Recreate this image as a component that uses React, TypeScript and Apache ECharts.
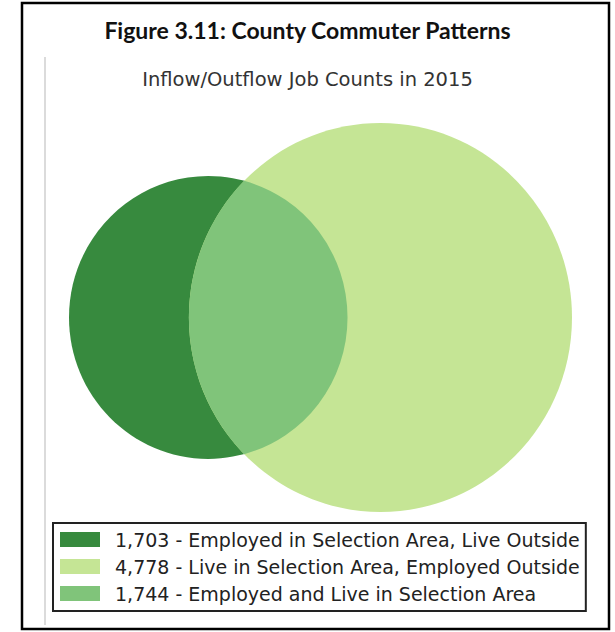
import React, { useEffect, useRef } from "react";
import * as echarts from "echarts";

const TITLE = "Figure 3.11: County Commuter Patterns";
const SUBTITLE = "Inflow/Outflow Job Counts in 2015";
const categories = [
  "Employed in Selection Area, Live Outside",
  "Live in Selection Area, Employed Outside",
  "Employed and Live in Selection Area",
];
const values = [1703, 4778, 1744]; // A only, B only, A and B
const colors = ["#378a3e", "#c5e595", "#80c47a"];

function lensArea(r1: number, r2: number, d: number) {
  if (d >= r1 + r2) return 0;
  if (d <= Math.abs(r1 - r2)) return Math.PI * Math.min(r1, r2) ** 2;
  const a1 = Math.acos((d * d + r1 * r1 - r2 * r2) / (2 * d * r1));
  const a2 = Math.acos((d * d + r2 * r2 - r1 * r1) / (2 * d * r2));
  const k = Math.sqrt((-d + r1 + r2) * (d + r1 - r2) * (d - r1 + r2) * (d + r1 + r2));
  return r1 * r1 * a1 + r2 * r2 * a2 - 0.5 * k;
}

function fmt(n: number) {
  return n.toLocaleString("en-US");
}

export default function App() {
  const ref = useRef<HTMLDivElement>(null);
  useEffect(() => {
    if (!ref.current) return;
    const chart = echarts.init(ref.current, null, { renderer: "svg" });

    const [aOnly, bOnly, both] = values;
    const rA = Math.sqrt((aOnly + both) / Math.PI);
    const rB = Math.sqrt((bOnly + both) / Math.PI);
    let lo = Math.abs(rA - rB) + 1e-9;
    let hi = rA + rB;
    for (let i = 0; i < 100; i++) {
      const mid = (lo + hi) / 2;
      if (lensArea(rA, rB, mid) > both) lo = mid;
      else hi = mid;
    }
    const d = (lo + hi) / 2;
    const xMin = -rA;
    const xMax = d + rB;
    const yMin = -Math.max(rA, rB);
    const yMax = Math.max(rA, rB);

    const xi = (d * d + rA * rA - rB * rB) / (2 * d);
    const yi = Math.sqrt(Math.max(0, rA * rA - xi * xi));

    const names = categories.map((c, i) => `${fmt(values[i])} - ${c}`);

    const circleItem = (cx: number, r: number, color: string) => (params: any, api: any) => {
      const c = api.coord([cx, 0]);
      const s = api.size([r, r]);
      return { type: "ellipse", shape: { cx: c[0], cy: c[1], rx: s[0], ry: s[1] }, style: { fill: color } };
    };

    const lensItem = (params: any, api: any) => {
      const p1 = api.coord([xi, yi]);
      const p2 = api.coord([xi, -yi]);
      const sa = api.size([rA, rA]);
      const sb = api.size([rB, rB]);
      const pathData = `M ${p1[0]} ${p1[1]} A ${sa[0]} ${sa[1]} 0 0 1 ${p2[0]} ${p2[1]} A ${sb[0]} ${sb[1]} 0 0 1 ${p1[0]} ${p1[1]} Z`;
      return { type: "path", shape: { pathData }, style: { fill: colors[2] } };
    };

    chart.setOption({
      animation: false,
      backgroundColor: "#ffffff",
      title: [
        {
          text: TITLE,
          left: "center",
          top: 13,
          textStyle: { fontFamily: "Lato", fontWeight: "bold", fontSize: 23, color: "#111" },
        },
        {
          text: SUBTITLE,
          left: "center",
          top: 64,
          textStyle: { fontFamily: "DejaVu Sans", fontWeight: "normal", fontSize: 19.5, color: "#333" },
        },
      ],
      grid: { left: 69, top: 123, height: 389, width: 503 },
      xAxis: {
        type: "value",
        min: xMin,
        max: xMax,
        show: false,
        splitLine: { show: false },
      },
      yAxis: {
        type: "value",
        min: yMin,
        max: yMax,
        show: false,
        splitLine: { show: false },
      },
      legend: {
        orient: "vertical",
        left: 53,
        top: 523,
        icon: "rect",
        itemWidth: 40,
        itemHeight: 15,
        itemGap: 8,
        padding: [7, 6, 8, 7],
        borderColor: "#222",
        borderWidth: 2,
        selectedMode: false,
        data: names,
        textStyle: { fontFamily: "DejaVu Sans", fontSize: 19, color: "#222", padding: [0, 0, 0, 10] },
      },
      graphic: [
        { type: "rect", shape: { x: 22, y: 3, width: 587, height: 626 }, style: { fill: "none", stroke: "#000", lineWidth: 2.5 }, silent: true },
        { type: "line", shape: { x1: 45, y1: 57, x2: 45, y2: 625 }, style: { stroke: "#cfcfcf", lineWidth: 1.5 }, silent: true },
      ],
      series: [
        {
          name: names[0],
          type: "custom",
          itemStyle: { color: colors[0] },
          data: [[0, 0]],
          renderItem: circleItem(0, rA, colors[0]),
        },
        {
          name: names[1],
          type: "custom",
          itemStyle: { color: colors[1] },
          data: [[d, 0]],
          renderItem: circleItem(d, rB, colors[1]),
        },
        {
          name: names[2],
          type: "custom",
          itemStyle: { color: colors[2] },
          data: [[xi, 0]],
          renderItem: lensItem,
        },
      ],
    });
    return () => chart.dispose();
  }, []);
  return <div ref={ref} style={{ position: "absolute", left: 0, top: 0, width: 615, height: 632 }} />;
}
